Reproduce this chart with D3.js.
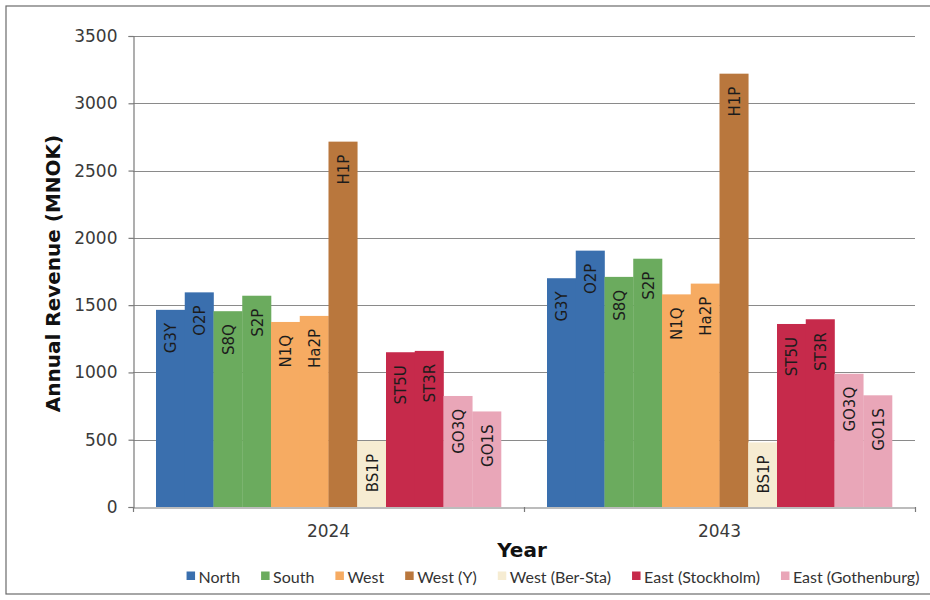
<!DOCTYPE html>
<html>
<head>
<meta charset="utf-8">
<script src="https://cdn.jsdelivr.net/npm/d3@7"></script>
<style>
  html, body { margin: 0; padding: 0; background: #fff; }
  svg { display: block; }
</style>
</head>
<body>
<svg id="chart" width="930" height="600"></svg>
<script>
// ---- data ----
const years = ["2024", "2043"];
const barIds = ["G3Y", "O2P", "S8Q", "S2P", "N1Q", "Ha2P", "H1P", "BS1P", "ST5U", "ST3R", "GO3Q", "GO1S"];
const barRegion = ["North", "North", "South", "South", "West", "West", "West (Y)", "West (Ber-Sta)",
                   "East (Stockholm)", "East (Stockholm)", "East (Gothenburg)", "East (Gothenburg)"];
const values2024 = [1465, 1595, 1455, 1570, 1375, 1420, 2715, 490, 1150, 1160, 825, 710];
const values2043 = [1700, 1905, 1710, 1845, 1580, 1660, 3220, 480, 1360, 1395, 990, 830];
const regions = ["North", "South", "West", "West (Y)", "West (Ber-Sta)", "East (Stockholm)", "East (Gothenburg)"];
const regionColors = ["#3a6fae", "#6bab5e", "#f6ab62", "#b9773d", "#f6ecd2", "#c62a4b", "#e9a6b8"];
const yTicks = [0, 500, 1000, 1500, 2000, 2500, 3000, 3500];
const yTitle = "Annual Revenue (MNOK)";
const xTitle = "Year";

const valuesByYear = { "2024": values2024, "2043": values2043 };

// ---- layout ----
const svg = d3.select("#chart");
const plot = { left: 133, right: 915, top: 36, bottom: 507 };

// outer frame
svg.append("rect")
  .attr("x", 6).attr("y", 6).attr("width", 940).attr("height", 588)
  .attr("fill", "none").attr("stroke", "#6b6b6b").attr("stroke-width", 1.2);

const y = d3.scaleLinear().domain([0, 3500]).range([plot.bottom, plot.top]);
const x0 = d3.scaleBand().domain(years).range([plot.left, plot.right]).padding(0);
const x1 = d3.scaleBand().domain(barIds).range([0, x0.bandwidth()]).paddingInner(0).paddingOuter(0.8);
const color = d3.scaleOrdinal().domain(regions).range(regionColors);

// gridlines
svg.append("g")
  .selectAll("line")
  .data(yTicks.filter(d => d > 0))
  .join("line")
  .attr("x1", plot.left).attr("x2", plot.right)
  .attr("y1", d => Math.round(y(d)) + 0.5).attr("y2", d => Math.round(y(d)) + 0.5)
  .attr("stroke", "#8a8a8a").attr("stroke-width", 1.2);

// bars
const groups = svg.append("g")
  .selectAll("g")
  .data(years)
  .join("g")
  .attr("transform", d => `translate(${x0(d)},0)`);

const barData = yr => barIds.map((id, i) => ({ id, region: barRegion[i], value: valuesByYear[yr][i] }));

groups.selectAll("rect")
  .data(d => barData(d))
  .join("rect")
  .attr("x", d => x1(d.id))
  .attr("width", x1.bandwidth() + 0.3)
  .attr("y", d => y(d.value))
  .attr("height", d => y(0) - y(d.value))
  .attr("fill", d => color(d.region));

groups.selectAll("text")
  .data(d => barData(d))
  .join("text")
  .attr("transform", d => `translate(${x1(d.id) + x1.bandwidth() / 2 + 1},${y(d.value) + 13}) rotate(-90)`)
  .attr("dominant-baseline", "central")
  .attr("text-anchor", "end")
  .attr("font-family", "DejaVu Sans, Verdana, sans-serif")
  .attr("font-size", 15)
  .attr("fill", "#1c1c1c")
  .text(d => d.id);

// y axis
const yAxis = svg.append("g")
  .attr("transform", `translate(${plot.left + 0.5},0)`)
  .call(d3.axisLeft(y).tickValues(yTicks).tickSize(5).tickPadding(11).tickFormat(d3.format("d")));
yAxis.select(".domain").attr("stroke", "#7a7a7a").attr("stroke-width", 1.2);
yAxis.selectAll(".tick line").attr("stroke", "#7a7a7a").attr("stroke-width", 1.2);
yAxis.selectAll(".tick text")
  .attr("font-family", "DejaVu Sans, Verdana, sans-serif")
  .attr("font-size", 17).attr("fill", "#3a3a3a");

// x axis
const xAxis = svg.append("g")
  .attr("transform", `translate(0,${plot.bottom + 0.5})`)
  .call(d3.axisBottom(x0).tickSize(0).tickPadding(17));
xAxis.select(".domain").attr("stroke", "#7a7a7a").attr("stroke-width", 1.2);
xAxis.selectAll(".tick text")
  .attr("font-family", "DejaVu Sans, Verdana, sans-serif")
  .attr("font-size", 17).attr("fill", "#3a3a3a");
// category boundary ticks
svg.append("g")
  .selectAll("line")
  .data([x0.range()[0], ...years.map(d => x0(d) + x0.bandwidth())])
  .join("line")
  .attr("x1", d => d + 0.5).attr("x2", d => d + 0.5)
  .attr("y1", plot.bottom).attr("y2", plot.bottom + 5)
  .attr("stroke", "#7a7a7a").attr("stroke-width", 1.2);

// axis titles
svg.append("text")
  .attr("transform", `translate(60,${(plot.top + plot.bottom) / 2 + 2}) rotate(-90)`)
  .attr("text-anchor", "middle")
  .attr("font-family", "DejaVu Sans, Verdana, sans-serif")
  .attr("font-weight", "bold").attr("font-size", 20).attr("fill", "#111")
  .text(yTitle);

svg.append("text")
  .attr("x", 522).attr("y", 557)
  .attr("text-anchor", "middle")
  .attr("font-family", "DejaVu Sans, Verdana, sans-serif")
  .attr("font-weight", "bold").attr("font-size", 20).attr("fill", "#111")
  .text(xTitle);

// legend
const legend = svg.append("g").attr("transform", "translate(0,576)");
const items = legend.selectAll("g").data(regions).join("g");
items.append("rect")
  .attr("y", -4.5).attr("width", 8.5).attr("height", 8.5)
  .attr("fill", d => color(d));
items.append("text")
  .attr("x", 12).attr("y", 0)
  .attr("dominant-baseline", "central")
  .attr("font-family", "Lato, 'Open Sans', sans-serif")
  .attr("font-size", 16).attr("fill", "#333")
  .text(d => d);
let cx = 0;
const gap = 21;
const widths = [];
items.each(function () {
  const w = 12 + d3.select(this).select("text").node().getComputedTextLength();
  widths.push(w);
});
const total = d3.sum(widths) + gap * (widths.length - 1);
cx = 553 - total / 2;
items.attr("transform", (d, i) => {
  const t = `translate(${cx},0)`;
  cx += widths[i] + gap;
  return t;
});
</script>
</body>
</html>
